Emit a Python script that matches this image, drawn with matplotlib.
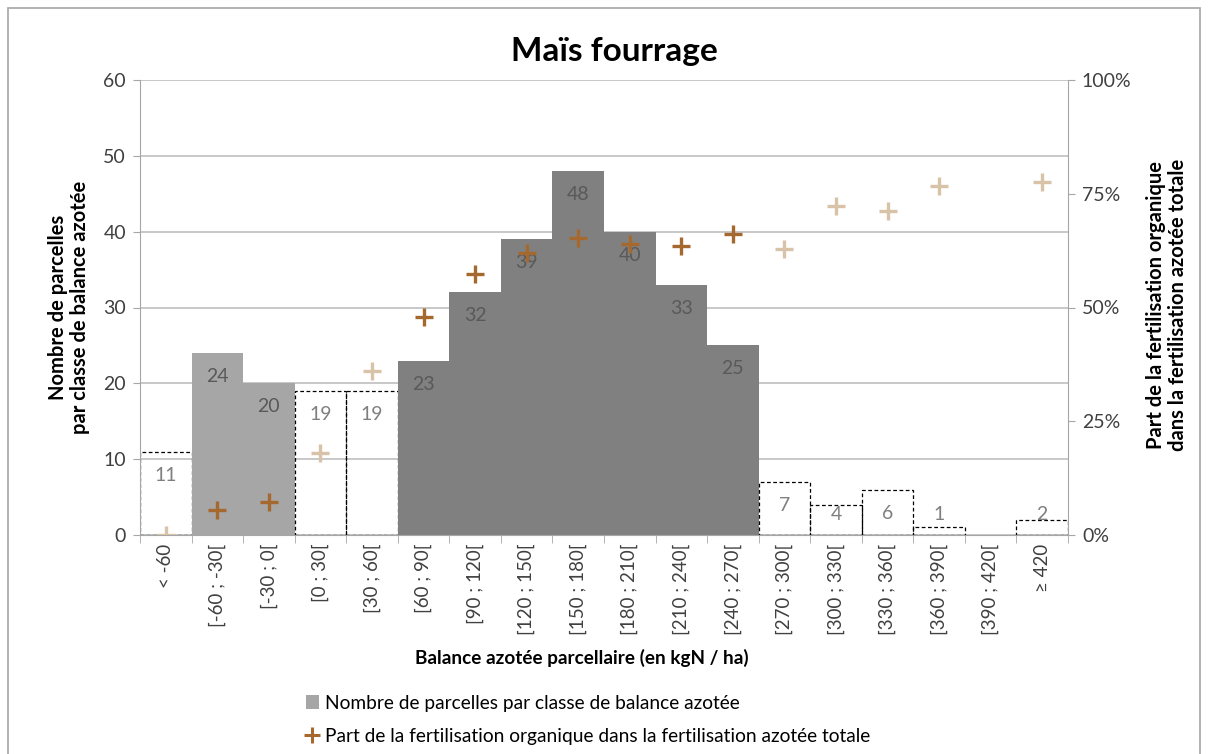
import numpy as np
import matplotlib.pyplot as plt
from matplotlib.lines import Line2D
from matplotlib.patches import Patch, Rectangle
from matplotlib.ticker import FixedLocator, FuncFormatter

plt.rcParams["font.family"] = ["Lato", "DejaVu Sans"]

# Données
classes = ["< -60", "[-60 ; -30[", "[-30 ; 0[", "[0 ; 30[", "[30 ; 60[", "[60 ; 90[",
           "[90 ; 120[", "[120 ; 150[", "[150 ; 180[", "[180 ; 210[", "[210 ; 240[",
           "[240 ; 270[", "[270 ; 300[", "[300 ; 330[", "[330 ; 360[", "[360 ; 390[",
           "[390 ; 420[", "≥ 420"]
nb_parcelles = [11, 24, 20, 19, 19, 23, 32, 39, 48, 40, 33, 25, 7, 4, 6, 1, 0, 2]
part_organique = [0, 5.5, 7.3, 18, 36, 47.9, 57.4, 62, 65.2, 64, 63.5, 66.1,
                  62.8, 72.3, 71.2, 76.7, np.nan, 77.6]

gris_clair = [1, 2]
gris_fonce = list(range(5, 12))

brun = "#A5692F"
brun_clair = "#D8C3A8"

fig = plt.figure(figsize=(12.08, 7.54), dpi=100)
ax = fig.add_axes([140 / 1208, 1 - 535 / 754, 928 / 1208, 455 / 754])
ax2 = ax.twinx()

x = np.arange(len(classes))
for i, v in enumerate(nb_parcelles):
    if v == 0:
        continue
    if i in gris_clair:
        ax.bar(i, v, width=1.0, color="#A6A6A6", edgecolor="none", zorder=2)
    elif i in gris_fonce:
        ax.bar(i, v, width=1.0, color="#808080", edgecolor="none", zorder=2)
    else:
        ax.bar(i, v, width=1.0, fill=False, edgecolor="black", linestyle=(0, (3, 2)),
               linewidth=0.9, zorder=2)
    couleur_txt = "#595959" if (i in gris_clair or i in gris_fonce) else "#7F7F7F"
    ax.text(i, max(v - 3.1, 2.75), str(v), ha="center", va="center",
            fontsize=14, color=couleur_txt, zorder=3)

ax.set_xlim(-0.5, len(classes) - 0.5)
ax.set_ylim(0, 60)
ax.set_yticks(range(0, 61, 10))
ax.yaxis.grid(True, color="#BFBFBF", linewidth=1.2, zorder=0)
ax.set_axisbelow(True)
ax.set_xticks(x)
ax.set_xticklabels(classes, rotation=90, fontsize=13.5, color="#404040")
ax.xaxis.set_minor_locator(FixedLocator(np.arange(-0.5, len(classes), 1.0)))
ax.tick_params(axis="x", which="major", length=0, pad=6)
ax.tick_params(axis="x", which="minor", length=6, color="#A6A6A6")
ax.tick_params(axis="y", length=5, color="#A6A6A6", labelsize=14, labelcolor="#404040", pad=5)
for s in ["top", "right"]:
    ax.spines[s].set_visible(False)
for s in ["left", "bottom"]:
    ax.spines[s].set_color("#A6A6A6")

couleurs = [brun if (i in gris_clair or i in gris_fonce) else brun_clair for i in x]
ax2.scatter(x, part_organique, marker="+", s=170, linewidths=2.4, c=couleurs, zorder=4)
ax2.set_ylim(0, 100)
ax2.set_yticks([0, 25, 50, 75, 100])
ax2.yaxis.set_major_formatter(FuncFormatter(lambda v, p: f"{v:.0f}%"))
ax2.tick_params(axis="y", length=5, color="#A6A6A6", labelsize=14, labelcolor="#404040", pad=5)
for s in ["top", "left", "bottom"]:
    ax2.spines[s].set_visible(False)
ax2.spines["right"].set_color("#A6A6A6")

fig.text(614 / 1208, 1 - 52 / 754, "Maïs fourrage", ha="center", va="center",
         fontsize=24, fontweight="bold")
fig.text(69 / 1208, 1 - 307 / 754, "Nombre de parcelles\npar classe de balance azotée",
         rotation=90, ha="center", va="center", fontsize=14.5, fontweight="bold",
         linespacing=1.15)
fig.text(1167 / 1208, 1 - 305 / 754,
         "Part de la fertilisation organique\ndans la fertilisation azotée totale",
         rotation=90, ha="center", va="center", fontsize=14.5, fontweight="bold",
         linespacing=1.15)
fig.text(582 / 1208, 1 - 658 / 754, "Balance azotée parcellaire (en kgN / ha)",
         ha="center", va="center", fontsize=13.6, fontweight="bold")

handles = [Patch(facecolor="#A6A6A6", edgecolor="none"),
           Line2D([], [], marker="+", color=brun, linestyle="none", markersize=11, mew=2.2)]
fig.legend(handles, ["Nombre de parcelles par classe de balance azotée",
                     "Part de la fertilisation organique dans la fertilisation azotée totale"],
           loc="upper left", bbox_to_anchor=(298 / 1208, 1 - 687 / 754), frameon=False,
           fontsize=13.8, handlelength=0.7, handleheight=0.7, handletextpad=0.3,
           labelspacing=0.85, borderaxespad=0)

fig.patches.append(Rectangle((8 / 1208, -0.01), 1192 / 1208, 1 - 8 / 754 + 0.01,
                             transform=fig.transFigure, fill=False,
                             edgecolor="#A6A6A6", linewidth=1.2))

fig.savefig("out.png", dpi=100)
